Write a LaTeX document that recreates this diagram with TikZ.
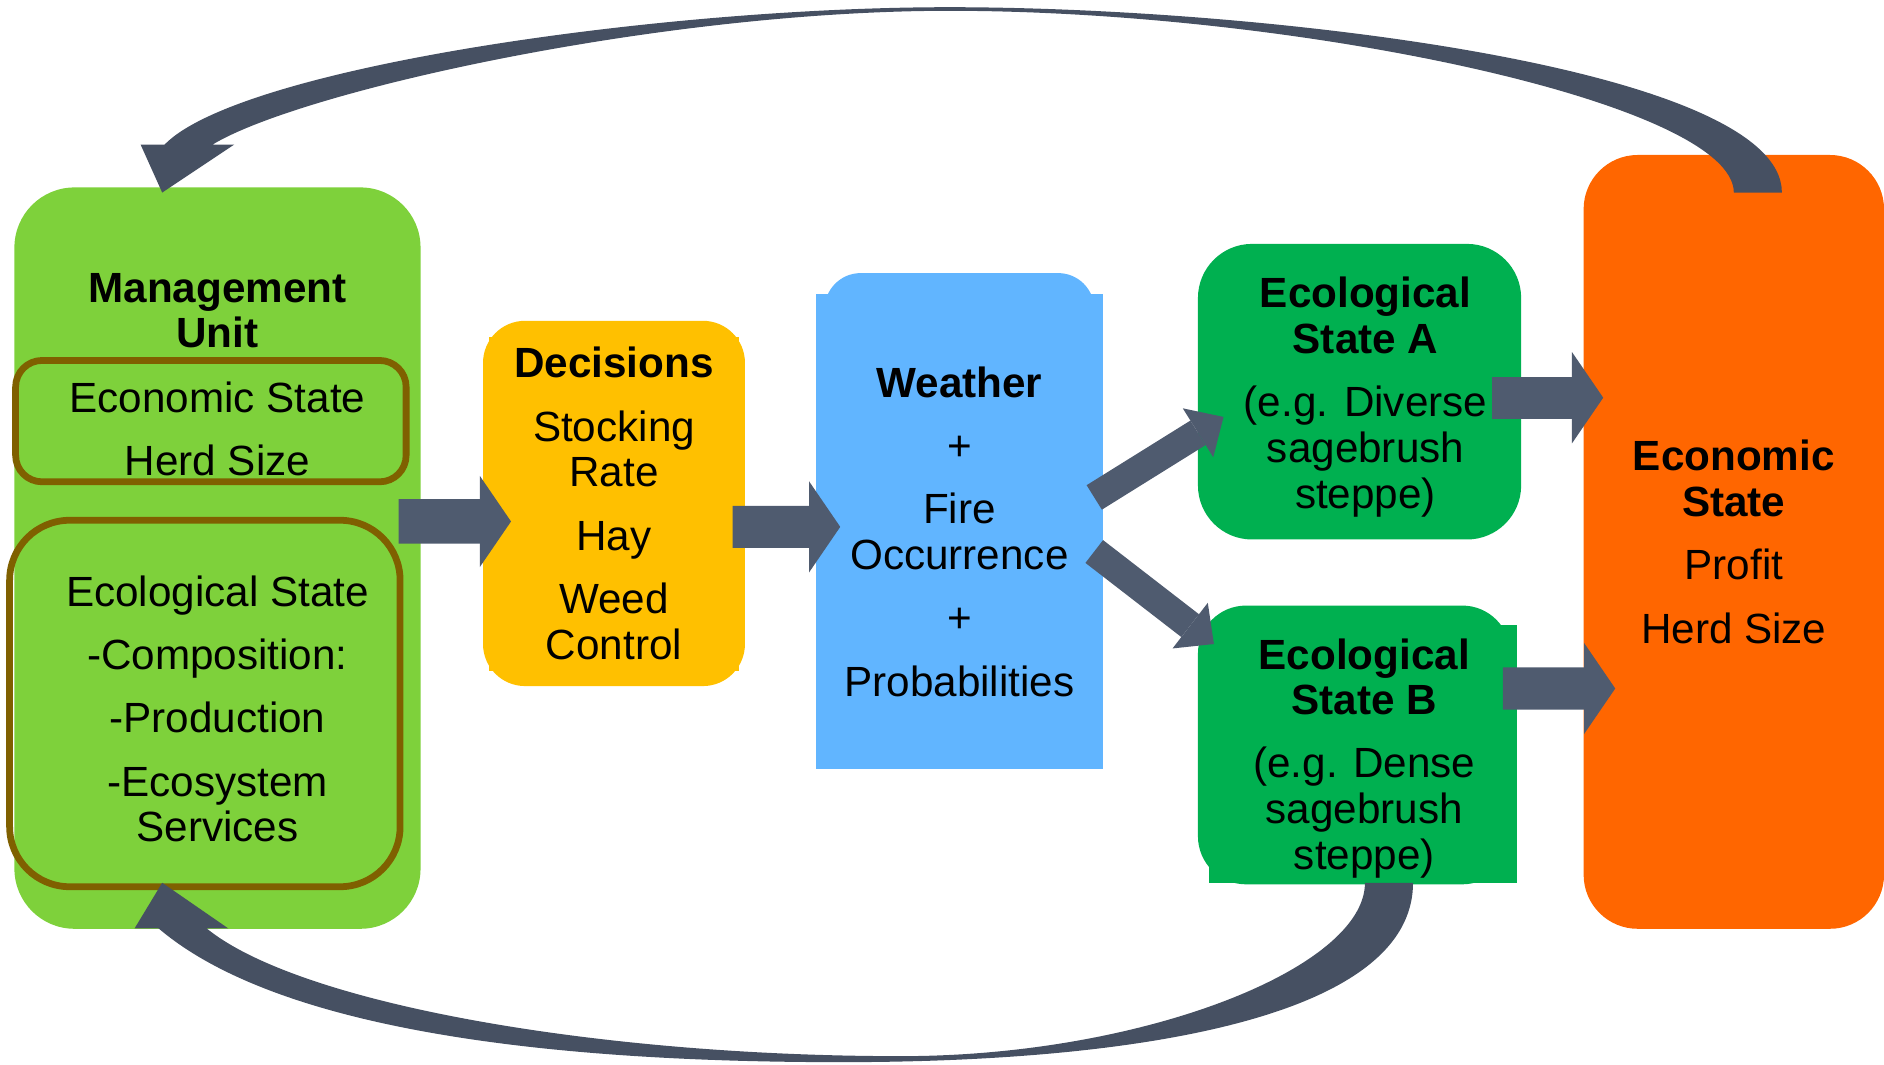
\documentclass[tikz,border=0pt]{standalone}
\usepackage{fontspec}
\setmainfont{Liberation Sans}
\usetikzlibrary{arrows.meta,backgrounds}
\definecolor{mgreen}{RGB}{126,209,59}
\definecolor{stgreen}{RGB}{0,176,80}
\definecolor{decgold}{RGB}{255,192,0}
\definecolor{weablue}{RGB}{97,181,255}
\definecolor{econorange}{RGB}{255,102,0}
\definecolor{rim}{RGB}{127,96,0}
\definecolor{arrowgray}{RGB}{79,91,111}
\definecolor{loopgray}{RGB}{70,80,98}
\begin{document}
\begin{tikzpicture}[every node/.style={inner sep=0pt, align=center,
    font=\fontsize{10}{10.8}\selectfont},
    panel/.style={fill=#1, rounded corners=0.45cm},
    rimbox/.style={draw=rim, line width=1.6pt, rounded corners=#1},
    flatarrow/.style={arrowgray, line width=0.35cm,
      -{Triangle[width=0.76cm, length=0.26cm, line width=0pt]}},
    slantarrow/.style={arrowgray, line width=0.24cm,
      -{Triangle[width=0.48cm, length=0.25cm, line width=0pt]}},
    loopfill/.style={fill=loopgray}]
  \useasboundingbox (0,0) rectangle (15.68,8.86);
  \node[panel=mgreen, rounded corners=0.5cm, minimum width=3.38cm,
    minimum height=6.17cm] (mgmt) at (1.81,4.215) {};
  \node[rimbox=0.22cm, minimum width=3.25cm, minimum height=1.01cm]
    (econbox) at (1.755,5.355) {};
  \node[rimbox=0.5cm, minimum width=3.25cm, minimum height=3.05cm]
    (ecolbox) at (1.705,3.005) {};
  \node (mgmtlabel) at (1.81,6.275) {\textbf{Management}\\\textbf{Unit}};
  \node (econtext) at (1.81,5.29) {Economic State\\[4.2pt]Herd Size};
  \node (ecoltext) at (1.81,2.96) {Ecological State\\[4.2pt]-Composition:\\[4.2pt]
    -Production\\[4.2pt]-Ecosystem\\Services};
  \node[panel=decgold, rounded corners=0.35cm, minimum width=2.18cm,
    minimum height=3.04cm] (dec) at (5.11,4.67)
    {\textbf{Decisions}\\[4.2pt]Stocking\\Rate\\[4.2pt]Hay\\[4.2pt]Weed\\Control};
  \node[fill=weablue, minimum width=2.39cm, minimum height=3.95cm] (wea)
    at (7.985,4.435) {\textbf{Weather}\\[4.2pt]+\\[4.2pt]Fire\\Occurrence\\[4.2pt]
    +\\[4.2pt]Probabilities};
  \node[panel=stgreen, minimum width=2.69cm, minimum height=2.46cm,
    label={[shift={(0.05,-0.045)}]center:{\textbf{Ecological}\\\textbf{State A}\\[4.2pt]
    (e.g. Diverse\\sagebrush\\steppe)}}] (ecoA) at (11.315,5.60) {};
  \node[panel=stgreen, rounded corners=0.4cm, minimum width=2.60cm,
    minimum height=2.32cm, label={[shift={(0.085,-0.11)}]center:{\textbf{Ecological}\\
    \textbf{State B}\\[4.2pt](e.g. Dense\\sagebrush\\steppe)}}] (ecoB)
    at (11.27,2.66) {};
  \node[panel=econorange, minimum width=2.50cm, minimum height=6.44cm] (econ)
    at (14.43,4.35) {\textbf{Economic}\\\textbf{State}\\[4.2pt]Profit\\[4.2pt]
    Herd Size};
  \begin{pgfonlayer}{background}
    \fill[decgold] ([shift={(0.06,0.13)}]dec.south west) rectangle
      ([shift={(-0.06,-0.14)}]dec.north east);
    \fill[weablue, rounded corners=0.3cm] ([shift={(0.08,-2.0)}]wea.north west)
      rectangle ([shift={(-0.08,0.17)}]wea.north east);
    \fill[stgreen] ([shift={(0.10,0.02)}]ecoB.south west) rectangle
      ([shift={(0.05,-0.17)}]ecoB.north east);
  \end{pgfonlayer}
  \draw[flatarrow, line width=0.37cm] ([shift={(-0.19,0.305)}]mgmt.east)
    -- ([shift={(0.24,-0.15)}]dec.west);
  \draw[flatarrow] ([shift={(-0.11,-0.195)}]dec.east)
    -- ([shift={(0.21,0.04)}]wea.west);
  \draw[slantarrow] ([shift={(-0.08,0.285)}]wea.east)
    -- ([shift={(0.22,-0.21)}]ecoA.west);
  \draw[slantarrow] ([shift={(-0.08,-0.165)}]wea.east)
    -- ([shift={(0.14,0.84)}]ecoB.west);
  \draw[flatarrow] ([shift={(-0.25,-0.05)}]ecoA.east)
    -- ([shift={(0.17,1.20)}]econ.west);
  \draw[flatarrow] ([shift={(-0.07,0.47)}]ecoB.east)
    -- ([shift={(0.27,-1.22)}]econ.west);
  % curved feedback arrows
  \fill[loopfill] ([shift={(0.40,-0.32)}]econ.north)
    .. controls (14.83,8.3) and (10.5,8.80) .. (7.9,8.80)
    .. controls (5.5,8.80) and (2.0,8.3) .. ([shift={(-0.44,0.35)}]mgmt.north)
    -- ([shift={(-0.64,0.35)}]mgmt.north) -- ([shift={(-0.46,-0.05)}]mgmt.north)
    -- ([shift={(0.14,0.35)}]mgmt.north) -- ([shift={(-0.04,0.35)}]mgmt.north)
    .. controls (2.5,8.1) and (5.5,8.77) .. (7.9,8.77)
    .. controls (10.8,8.77) and (14.43,8.0) .. ([shift={(0,-0.32)}]econ.north)
    -- cycle;
  \fill[loopfill] ([shift={(0.49,0.02)}]ecoB.south)
    .. controls (11.76,0.4) and (9.5,0.02) .. (7.0,0.02)
    .. controls (4.5,0.02) and (2.3,0.3) .. ([shift={(-0.49,0.01)}]mgmt.south)
    -- ([shift={(-0.69,0.01)}]mgmt.south) -- ([shift={(-0.46,0.39)}]mgmt.south)
    -- ([shift={(0.09,0.01)}]mgmt.south) -- ([shift={(-0.09,0.01)}]mgmt.south)
    .. controls (2.5,0.5) and (5.0,0.07) .. (7.5,0.07)
    .. controls (9.5,0.07) and (11.36,0.8) .. ([shift={(0.09,0.02)}]ecoB.south)
    -- cycle;
\end{tikzpicture}
\end{document}
